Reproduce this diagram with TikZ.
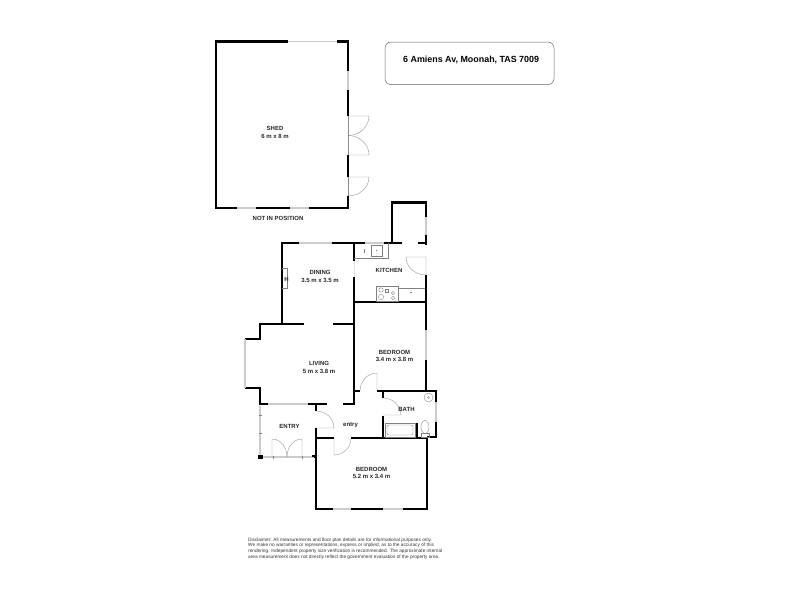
\documentclass[tikz,border=0pt]{standalone}
\usepackage{fontspec}
\setmainfont{Liberation Sans}
\tikzstyle{wall}=[line width=2.8pt, line cap=butt, line join=miter]
\tikzstyle{thin wall}=[line width=2pt, line join=miter]
\tikzstyle{glazing}=[line width=1.6pt, color=black!20]
\tikzstyle{door}=[line width=0.35pt, color=black!45]
\tikzstyle{fixture}=[line width=0.35pt, color=black!50]
\tikzstyle{room}=[font=\fontsize{6}{7.6}\selectfont\bfseries, align=center, inner sep=0pt, text=black!85]
\tikzstyle{address box}=[draw=black!60, line width=0.5pt, rounded corners=6pt]

\begin{document}
\begin{tikzpicture}[x=1pt, y=-1pt]
      \useasboundingbox (0, 0) rectangle (800, 600);

      % shed
      \draw[wall] (288, 41.5) -- (216, 41.5) -- (216, 208) -- (237, 208);
      \draw[wall] (337, 41.5) -- (348, 41.5) -- (348, 71);
      \draw[wall] (348, 90) -- (348, 116);
      \draw[wall] (348, 155) -- (348, 177);
      \draw[wall] (348, 196) -- (348, 208) -- (309, 208);
      \draw[wall] (256, 208) -- (290, 208);
      \draw[glazing] (288, 41.5) -- (337, 41.5);
      \draw[glazing] (348, 71) -- (348, 90);
      \draw[glazing] (237, 208) -- (256, 208);
      \draw[glazing] (290, 208) -- (309, 208);
      \draw[door] (348, 116) -- (369, 116) to[out=-90, in=0] (348, 135.5);
      \draw[door] (348, 155) -- (369, 155) to[out=90, in=0] (348, 135.5);
      \draw[door] (348, 177) -- (369, 177) to[out=-90, in=0] (348, 196);
      \draw[door] (348, 116) -- (348, 155);
      \draw[door] (348, 177) -- (348, 196);

      % dining and kitchen
      \draw[wall] (299, 243) -- (282, 243) -- (282, 324);
      \draw[wall] (332, 243) -- (365, 243);
      \draw[wall] (384, 243) -- (402, 243);
      \draw[wall] (418, 243) -- (426, 243);
      \draw[wall] (392, 243) -- (392, 202.5) -- (426, 202.5) -- (426, 217);
      \draw[wall] (426, 235) -- (426, 244.5);
      \draw[wall] (426, 275) -- (426, 330);
      \draw[wall] (354, 243) -- (354, 261);
      \draw[wall] (354, 277) -- (354, 404);
      \draw[thin wall] (354, 302) -- (426, 302);
      \draw[glazing] (299, 243) -- (332, 243);
      \draw[glazing] (365, 243) -- (384, 243);
      \draw[glazing] (426, 217) -- (426, 235);
      \draw[glazing, line width=1pt, color=black!12] (354, 261) -- (354, 277);
      \draw[door] (426, 257) -- (406, 257) to[out=-90, in=180] (426, 275) -- (426, 257);
      \draw[fixture] (354, 258) -- (388, 258) -- (388, 243);
      \draw[fixture] (371, 245.5) rectangle (382, 256);
      \draw[fixture] (376.5, 250.5) circle (0.5);
      \draw[fixture] (364.5, 249) -- (364.5, 253);
      \draw[fixture] (376, 286) rectangle (398, 301);
      \draw[fixture] (381, 290) circle (2.2) (381, 297) circle (2.6) (393, 293) circle (1.6) (393, 298) circle (1.6);
      \draw[fixture] (385, 289) rectangle (388, 292);
      \draw[fixture] (398, 288) -- (425, 288);
      \draw[fixture] (410, 292) -- (411.5, 292);
      \draw[fixture] (282, 268) -- (287, 268) -- (287, 288) -- (282, 288);

      % living
      \draw[wall] (304, 324) -- (260, 324) -- (260, 339) -- (245, 339);
      \draw[wall] (245, 388) -- (260, 388) -- (260, 405.4);
      \draw[wall] (333, 324) -- (354, 324);
      \draw[wall] (260, 404) -- (268, 404);
      \draw[wall] (308, 404) -- (327, 404);
      \draw[wall] (343, 404) -- (355.4, 404);
      \draw[wall] (316, 404) -- (316, 411);
      \draw[thin wall] (354, 391) -- (360, 391);
      \draw[glazing] (245, 339) -- (245, 388);
      \draw[glazing] (268, 404) -- (308, 404);

      % entry
      \draw[glazing, line width=1.2pt] (260, 406) -- (260, 456);
      \draw[glazing, line width=1.2pt] (263, 457) -- (315, 457);
      \draw[fixture] (258.5, 415) -- (261.5, 415) (258.5, 433) -- (261.5, 433);
      \draw[fixture] (273, 455.5) -- (273, 458.5) (302, 455.5) -- (302, 458.5);
      \draw[wall, line width=4pt] (258, 457) -- (262.5, 457);
      \draw[wall] (314, 457) -- (317.4, 457);
      \draw[door] (272, 457) -- (272, 439) to[out=0, in=90] (287, 457);
      \draw[door] (302, 457) -- (302, 439) to[out=180, in=90] (287, 457);
      \draw[door] (316, 428) -- (334, 428) to[out=90, in=0] (316, 411);
      \draw[door] (334, 438) -- (334, 455) to[out=0, in=-90] (351, 438);

      % front bedroom
      \draw[wall] (316, 428) -- (316, 509) -- (333, 509);
      \draw[wall] (316, 438) -- (334, 438);
      \draw[wall] (351, 438) -- (428.4, 438);
      \draw[wall] (427, 438) -- (427, 509) -- (403, 509);
      \draw[wall] (351, 509) -- (383, 509);
      \draw[glazing] (333, 509) -- (351, 509);
      \draw[glazing] (383, 509) -- (403, 509);
      \draw[thin wall] (312, 456) -- (316, 456);

      % rear bedroom and bath
      \draw[wall] (426, 360) -- (426, 391);
      \draw[glazing] (426, 330) -- (426, 360);
      \draw[wall] (377, 391) -- (436, 391) -- (436, 402);
      \draw[wall] (436, 422) -- (436, 437) -- (427, 437);
      \draw[wall] (383, 391) -- (383, 398);
      \draw[wall] (383, 416) -- (383, 438);
      \draw[wall] (417, 423) -- (417, 438);
      \draw[glazing] (436, 402) -- (436, 422);
      \draw[door] (377, 391) -- (377, 373) to[out=180, in=90] (360, 391);
      \draw[door] (383, 415) -- (401, 415) to[out=90, in=0] (383, 398);
      \draw[fixture] (385, 423) rectangle (415, 437);
      \draw[fixture, rounded corners=2pt] (387, 425) rectangle (413, 435);
      \draw[fixture] (425, 427) ellipse (4 and 6.5);
      \draw[fixture] (421, 433.5) rectangle (429, 437);
      \draw[fixture] (428.5, 397.5) circle (4.5);
      \draw[fixture] (428.5, 397.5) circle (1);

      % labels
      \node[room] (shed) at (275, 132.5) {SHED\\6 m x 8 m};
      \node[room] (position) at (278, 218) {NOT IN POSITION};
      \node[room] (dining) at (320, 276.5) {DINING\\3.5 m x 3.5 m};
      \node[room] (kitchen) at (389, 270) {KITCHEN};
      \node[room] (heater) at (286.5, 279) {H};
      \node[room] (living) at (319, 367.5) {LIVING\\5 m x 3.8 m};
      \node[room] (bedroom rear) at (394.5, 356) {BEDROOM\\3.4 m x 3.8 m};
      \node[room] (bath) at (406.5, 409) {BATH};
      \node[room] (entry) at (289.5, 426) {ENTRY};
      \node[room] (hall) at (350.5, 425) {entry};
      \node[room] (bedroom front) at (371.5, 473) {BEDROOM\\5.2 m x 3.4 m};

      \draw[address box] (385, 42) rectangle (554, 84.5);
      \node[font=\fontsize{8.9}{10}\selectfont\bfseries, anchor=west, inner sep=0pt] (address) at (403, 59.5) {6 Amiens Av, Moonah, TAS 7009};

      \node[font=\fontsize{4.75}{5.75}\selectfont, align=left, anchor=north west, inner sep=0pt, text=black!80] (disclaimer) at (248, 537.5) {Disclaimer: All measurements and floor plan details are for informational purposes only.\\We  make no warranties or representations, express or implied, as to the accuracy of this\\rendering. Independent property size verification is recommended. The approximate internal\\area measurement does not directly reflect the government evaluation of the property area.};
    \end{tikzpicture}
\end{document}
